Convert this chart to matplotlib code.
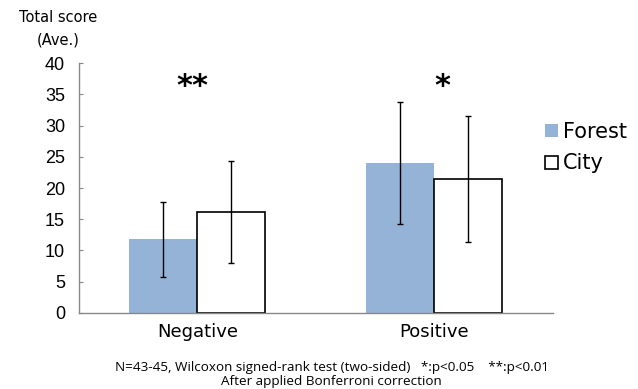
import numpy as np
import matplotlib.pyplot as plt

# Data
categories = ['Negative', 'Positive']
forest = [11.8, 24.0]
city = [16.2, 21.4]
forest_sd = [6.0, 9.7]
city_sd = [8.15, 10.1]
stars = ['**', '*']
yticks = [0, 5, 10, 15, 20, 25, 30, 35, 40]

# Figure
fig = plt.figure(figsize=(6.38, 3.89), dpi=100)
ax = fig.add_axes([0.1238, 0.1954, 0.7422, 0.6426])

x = np.arange(len(categories)) + 0.5
w = 0.287

ax.bar(x - w/2, forest, w, color='#95b3d7', label='Forest', zorder=2)
ax.bar(x + w/2, city, w, color='white', edgecolor='black', linewidth=1.2,
       label='City', zorder=2)
ax.errorbar(x - w/2, forest, yerr=forest_sd, fmt='none', ecolor='black',
            elinewidth=1.0, capsize=2.5, capthick=1.0, zorder=3)
ax.errorbar(x + w/2, city, yerr=city_sd, fmt='none', ecolor='black',
            elinewidth=1.0, capsize=2.5, capthick=1.0, zorder=3)

# significance stars
for xi, s in zip(x, stars):
    off = -0.02 if s == '**' else 0.035
    ax.text(xi + off, 36.2, s, ha='center', va='center', fontsize=22,
            fontweight='bold')

ax.set_xlim(0, 2)
ax.set_ylim(0, 40)
ax.set_yticks(yticks)
ax.set_xticks(x)
ax.set_xticklabels(categories, fontsize=13)
ax.tick_params(axis='x', length=0, pad=7)
ax.tick_params(axis='y', direction='in', length=3, color='#888888', pad=10)
for lab in ax.get_yticklabels():
    lab.set_family('Liberation Sans')
    lab.set_fontsize(13)
for side in ['top', 'right']:
    ax.spines[side].set_visible(False)
for side in ['left', 'bottom']:
    ax.spines[side].set_color('#888888')
    ax.spines[side].set_linewidth(1.0)

fig.text(58/638, 1 - 17/389, 'Total score', ha='center', va='center',
         fontsize=10.5)
fig.text(58/638, 1 - 40/389, '(Ave.)', ha='center', va='center',
         fontsize=10.5)

leg = fig.legend(loc='upper left', bbox_to_anchor=(545/638, 1 - 122/389),
                 frameon=False, fontsize=15, handlelength=0.6,
                 handleheight=0.6, handletextpad=0.25, labelspacing=0.55,
                 borderpad=0, borderaxespad=0)

fig.text(0.52, 1 - 367/389,
         'N=43-45, Wilcoxon signed-rank test (two-sided)   *:p<0.05    **:p<0.01',
         ha='center', va='center', fontsize=9.7, family='Open Sans')
fig.text(0.52, 1 - 382/389, 'After applied Bonferroni correction',
         ha='center', va='center', fontsize=9.7, family='Open Sans')

fig.savefig('out.png', dpi=100)
